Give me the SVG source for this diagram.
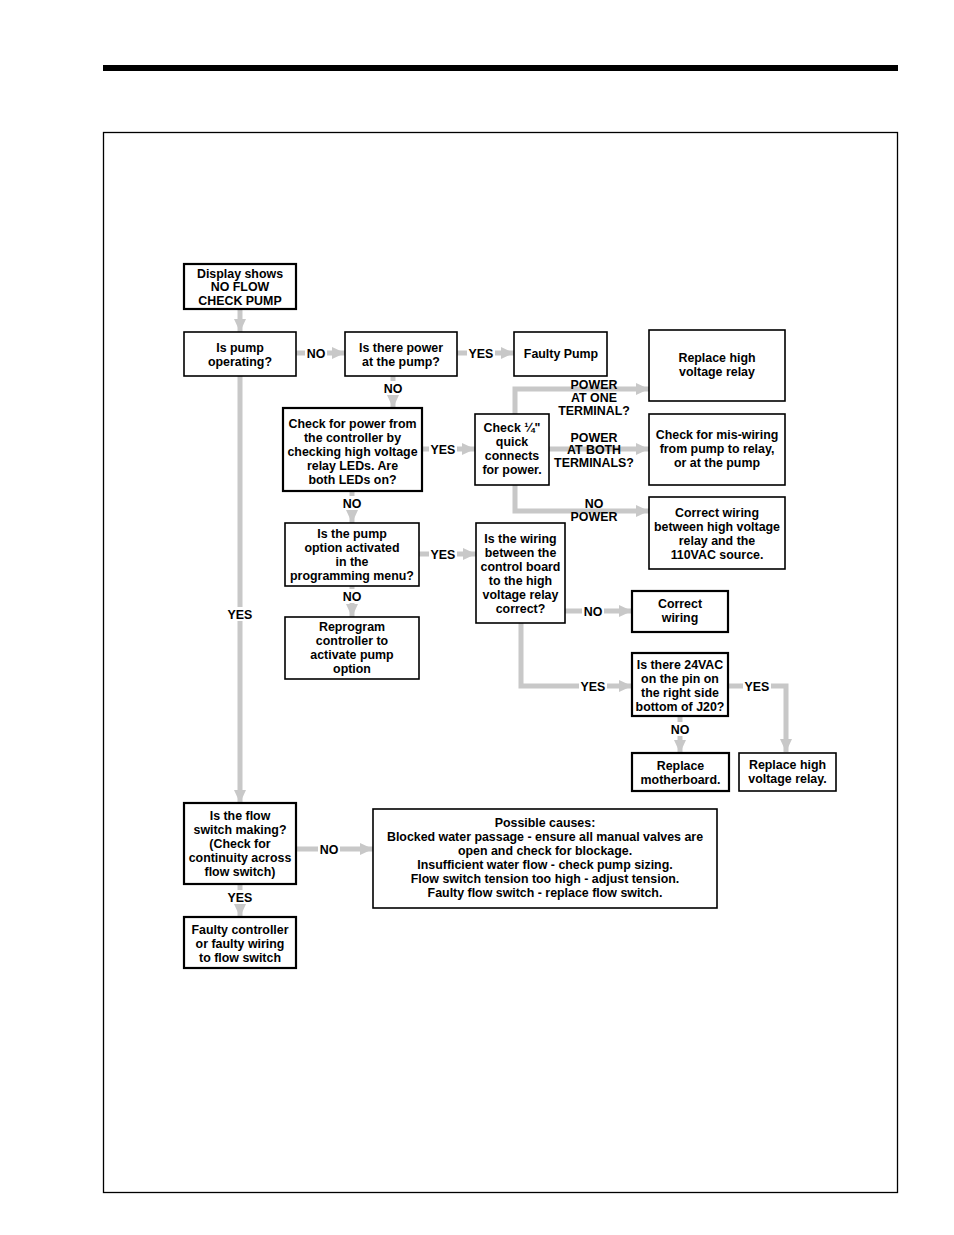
<svg xmlns="http://www.w3.org/2000/svg" width="954" height="1235" viewBox="0 0 954 1235">
<style>
.box{fill:#fff;stroke:#000;stroke-width:1.6}
.thick{stroke-width:2.2}
.t{font-family:"Liberation Sans",Arial,sans-serif;font-weight:bold;font-size:12.4px;text-anchor:middle;fill:#000}
.c{fill:none;stroke:#c8c8c8;stroke-width:5;marker-end:url(#ah)}
.lb{fill:#fff}
</style>
<defs>
<marker id="ah" markerUnits="userSpaceOnUse" markerWidth="14" markerHeight="14" viewBox="0 0 14 14" refX="13" refY="7" orient="auto">
<path d="M0,1 L13,7 L0,13 Z" fill="#c8c8c8"/>
</marker>
</defs>
<rect width="954" height="1235" fill="#fff"/>
<rect x="103" y="65" width="795" height="6" fill="#000"/>
<rect x="103.5" y="132.5" width="794" height="1060" fill="none" stroke="#000" stroke-width="1.3"/>

<g id="connectors">
<path class="c" d="M240,309 V332"/>
<path class="c" d="M296,353 H345"/>
<path class="c" d="M457,353 H514"/>
<path class="c" d="M393,376 V408"/>
<path class="c" d="M422,449 H475"/>
<path class="c" d="M515,414 V389 H649"/>
<path class="c" d="M549,449 H649"/>
<path class="c" d="M515,485 V511 H649"/>
<path class="c" d="M352,491 V523"/>
<path class="c" d="M419,554 H476"/>
<path class="c" d="M352,586 V617"/>
<path class="c" d="M565,611 H632"/>
<path class="c" d="M521,623 V686 H632"/>
<path class="c" d="M729,686 H786 V752"/>
<path class="c" d="M680,716 V753"/>
<path class="c" d="M240,376 V803"/>
<path class="c" d="M296,849 H373"/>
<path class="c" d="M240,884 V917"/>
<g id="conn-labels">
<rect class="lb" x="305" y="346" width="22" height="14"/><text class="t" x="316" y="358">NO</text>
<rect class="lb" x="382" y="381" width="22" height="14"/><text class="t" x="393" y="393">NO</text>
<rect class="lb" x="467" y="346" width="28" height="14"/><text class="t" x="481" y="358">YES</text>
<rect class="lb" x="429" y="442" width="28" height="14"/><text class="t" x="443" y="454">YES</text>
<rect class="lb" x="341" y="496" width="22" height="14"/><text class="t" x="352" y="508">NO</text>
<rect class="lb" x="429" y="547" width="28" height="14"/><text class="t" x="443" y="559">YES</text>
<rect class="lb" x="341" y="589" width="22" height="14"/><text class="t" x="352" y="601">NO</text>
<rect class="lb" x="582" y="604" width="22" height="14"/><text class="t" x="593" y="616">NO</text>
<rect class="lb" x="579" y="679" width="28" height="14"/><text class="t" x="593" y="691">YES</text>
<rect class="lb" x="743" y="679" width="28" height="14"/><text class="t" x="757" y="691">YES</text>
<rect class="lb" x="669" y="722" width="22" height="14"/><text class="t" x="680" y="734">NO</text>
<rect class="lb" x="226" y="607" width="28" height="14"/><text class="t" x="240" y="619">YES</text>
<rect class="lb" x="318" y="842" width="22" height="14"/><text class="t" x="329" y="854">NO</text>
<rect class="lb" x="226" y="890" width="28" height="14"/><text class="t" x="240" y="902">YES</text>
<text class="t" x="594" y="389">POWER</text>
<text class="t" x="594" y="402">AT ONE</text>
<text class="t" x="594" y="415">TERMINAL?</text>
<text class="t" x="594" y="442">POWER</text>
<text class="t" x="594" y="454">AT BOTH</text>
<text class="t" x="594" y="467">TERMINALS?</text>
<text class="t" x="594" y="508">NO</text>
<text class="t" x="594" y="521">POWER</text>
</g>
</g>

<g id="n-display"><rect class="box thick" x="184" y="264" width="112" height="45"/>
<text class="t" x="240" y="278">Display shows</text><text class="t" x="240" y="291">NO FLOW</text><text class="t" x="240" y="305">CHECK PUMP</text></g>

<g id="n-pumpop"><rect class="box" x="184" y="332" width="112" height="44"/>
<text class="t" x="240" y="352">Is pump</text><text class="t" x="240" y="366">operating?</text></g>

<g id="n-power"><rect class="box" x="345" y="332" width="112" height="44"/>
<text class="t" x="401" y="352">Is there power</text><text class="t" x="401" y="366">at the pump?</text></g>

<g id="n-faulty"><rect class="box" x="514" y="332" width="93" height="44"/>
<text class="t" x="561" y="358">Faulty Pump</text></g>

<g id="n-relay1"><rect class="box" x="649" y="330" width="136" height="71"/>
<text class="t" x="717" y="362">Replace high</text><text class="t" x="717" y="376">voltage relay</text></g>

<g id="n-checkpower"><rect class="box thick" x="283" y="408" width="139" height="83"/>
<text class="t" x="352.5" y="428">Check for power from</text><text class="t" x="352.5" y="442">the controller by</text><text class="t" x="352.5" y="456">checking high voltage</text><text class="t" x="352.5" y="470">relay LEDs. Are</text><text class="t" x="352.5" y="484">both LEDs on?</text></g>

<g id="n-quick"><rect class="box" x="475" y="414" width="74" height="71"/>
<text class="t" x="512" y="432">Check ¼"</text><text class="t" x="512" y="446">quick</text><text class="t" x="512" y="460">connects</text><text class="t" x="512" y="474">for power.</text></g>

<g id="n-miswire"><rect class="box" x="649" y="414" width="136" height="71"/>
<text class="t" x="717" y="439">Check for mis-wiring</text><text class="t" x="717" y="453">from pump to relay,</text><text class="t" x="717" y="467">or at the pump</text></g>

<g id="n-correct110"><rect class="box" x="649" y="497" width="136" height="72"/>
<text class="t" x="717" y="517">Correct wiring</text><text class="t" x="717" y="531">between high voltage</text><text class="t" x="717" y="545">relay and the</text><text class="t" x="717" y="559">110VAC source.</text></g>

<g id="n-option"><rect class="box" x="285" y="523" width="134" height="63"/>
<text class="t" x="352" y="538">Is the pump</text><text class="t" x="352" y="552">option activated</text><text class="t" x="352" y="566">in the</text><text class="t" x="352" y="580">programming menu?</text></g>

<g id="n-wiring"><rect class="box" x="476" y="523" width="89" height="100"/>
<text class="t" x="520.5" y="543">Is the wiring</text><text class="t" x="520.5" y="557">between the</text><text class="t" x="520.5" y="571">control board</text><text class="t" x="520.5" y="585">to the high</text><text class="t" x="520.5" y="599">voltage relay</text><text class="t" x="520.5" y="613">correct?</text></g>

<g id="n-reprogram"><rect class="box" x="285" y="617" width="134" height="62"/>
<text class="t" x="352" y="631">Reprogram</text><text class="t" x="352" y="645">controller to</text><text class="t" x="352" y="659">activate pump</text><text class="t" x="352" y="673">option</text></g>

<g id="n-correctwiring"><rect class="box thick" x="632" y="591" width="96" height="41"/>
<text class="t" x="680" y="608">Correct</text><text class="t" x="680" y="622">wiring</text></g>

<g id="n-24vac"><rect class="box thick" x="632" y="653" width="96" height="63"/>
<text class="t" x="680" y="669">Is there 24VAC</text><text class="t" x="680" y="683">on the pin on</text><text class="t" x="680" y="697">the right side</text><text class="t" x="680" y="711">bottom of J20?</text></g>

<g id="n-motherboard"><rect class="box thick" x="632" y="753" width="97" height="38"/>
<text class="t" x="680.5" y="770">Replace</text><text class="t" x="680.5" y="784">motherboard.</text></g>

<g id="n-relay2"><rect class="box" x="739" y="753" width="97" height="38"/>
<text class="t" x="787.5" y="769">Replace high</text><text class="t" x="787.5" y="783">voltage relay.</text></g>

<g id="n-flowswitch"><rect class="box thick" x="184" y="803" width="112" height="81"/>
<text class="t" x="240" y="820">Is the flow</text><text class="t" x="240" y="834">switch making?</text><text class="t" x="240" y="848">(Check for</text><text class="t" x="240" y="862">continuity across</text><text class="t" x="240" y="876">flow switch)</text></g>

<g id="n-causes"><rect class="box" x="373" y="809" width="344" height="99"/>
<text class="t" x="545" y="827">Possible causes:</text><text class="t" x="545" y="841">Blocked water passage - ensure all manual valves are</text><text class="t" x="545" y="855">open and check for blockage.</text><text class="t" x="545" y="869">Insufficient water flow - check pump sizing.</text><text class="t" x="545" y="883">Flow switch tension too high - adjust tension.</text><text class="t" x="545" y="897">Faulty flow switch - replace flow switch.</text></g>

<g id="n-faultyctrl"><rect class="box thick" x="184" y="917" width="112" height="51"/>
<text class="t" x="240" y="934">Faulty controller</text><text class="t" x="240" y="948">or faulty wiring</text><text class="t" x="240" y="962">to flow switch</text></g>
</svg>
